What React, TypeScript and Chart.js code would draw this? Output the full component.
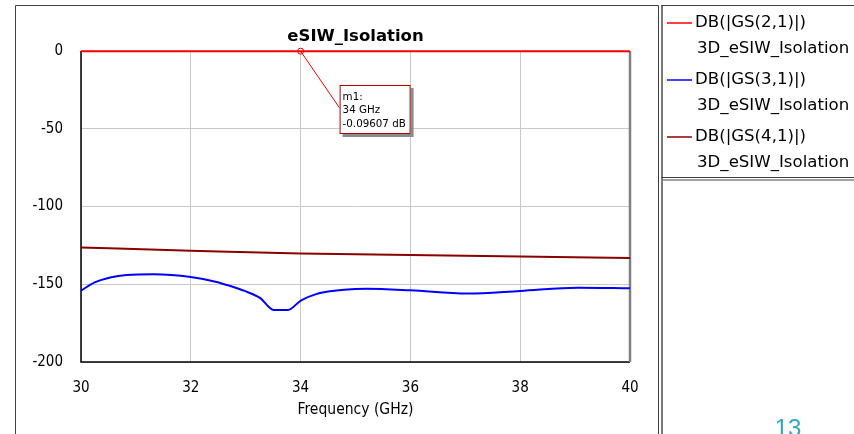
import React, { useEffect, useRef } from "react";
import { Chart, registerables } from "chart.js";

Chart.register(...registerables);

const FONT = "'DejaVu Sans Condensed', 'DejaVu Sans', sans-serif";
const WIDE = "'DejaVu Sans', sans-serif";

const chartTitle = "eSIW_Isolation";
const xAxisTitle = "Frequency (GHz)";
const xTickValues = [30, 32, 34, 36, 38, 40];
const yTickValues = [0, -50, -100, -150, -200];

const s21Label = ["DB(|GS(2,1)|)", "3D_eSIW_Isolation"];
const s21Freq = [30, 32, 34, 36, 38, 40];
const s21Db = [-0.1, -0.1, -0.09607, -0.1, -0.1, -0.1];

const s31Label = ["DB(|GS(3,1)|)", "3D_eSIW_Isolation"];
const s31Freq = [30, 30.25, 30.53, 30.83, 31.32, 32, 32.47, 32.7, 32.98, 33.26, 33.51, 33.77, 34.01, 34.27, 34.54, 34.79, 35.2, 36, 37.04, 38, 39.05, 40];
const s31Db = [-154.1, -148.8, -145.6, -144.0, -143.6, -145.3, -148.5, -150.9, -154.3, -158.8, -166.5, -166.5, -160.3, -156.5, -154.5, -153.5, -152.9, -153.9, -156.0, -154.3, -152.2, -152.6];

const s41Label = ["DB(|GS(4,1)|)", "3D_eSIW_Isolation"];
const s41Freq = [30, 32, 34, 36, 38, 40];
const s41Db = [-126.3, -128.4, -130.3, -131.2, -132.1, -133.1];

const markerName = "m1:";
const markerFreq = 34;
const markerDb = -0.09607;
const markerLines = [markerName, `${markerFreq} GHz`, `${markerDb} dB`];

const slideNumber = "13";

const toPoints = (xs: number[], ys: number[]) => xs.map((x, i) => ({ x, y: ys[i] }));

const decorPlugin = {
  id: "decor",
  beforeDatasetsDraw(chart: any) {
    const { ctx, chartArea: a } = chart;
    ctx.save();
    ctx.strokeStyle = "#000";
    ctx.lineWidth = 1.5;
    ctx.beginPath();
    ctx.moveTo(a.left, a.top);
    ctx.lineTo(a.left, a.bottom);
    ctx.lineTo(a.right, a.bottom);
    ctx.stroke();
    ctx.strokeStyle = "#808080";
    ctx.lineWidth = 2.5;
    ctx.beginPath();
    ctx.moveTo(a.right, a.top);
    ctx.lineTo(a.right, a.bottom);
    ctx.stroke();
    ctx.restore();
  },
  afterDraw(chart: any) {
    const { ctx, chartArea: a, scales } = chart;
    const W = chart.width;
    const H = chart.height;
    ctx.save();
    // outer frame
    ctx.strokeStyle = "#404040";
    ctx.lineWidth = 1;
    ctx.beginPath();
    ctx.moveTo(15.5, H);
    ctx.lineTo(15.5, 5.5);
    ctx.lineTo(658.5, 5.5);
    ctx.lineTo(658.5, H);
    ctx.stroke();
    ctx.strokeStyle = "#7a7a7a";
    ctx.lineWidth = 2;
    ctx.beginPath();
    ctx.moveTo(662, 5);
    ctx.lineTo(662, H);
    ctx.stroke();

    // title
    ctx.fillStyle = "#000";
    ctx.font = `bold 16.5px ${WIDE}`;
    ctx.textAlign = "center";
    ctx.textBaseline = "middle";
    ctx.fillText(chartTitle, (a.left + a.right) / 2, 37);

    // legend box
    ctx.strokeStyle = "#404040";
    ctx.lineWidth = 1;
    ctx.beginPath();
    ctx.moveTo(661, 5.5);
    ctx.lineTo(W, 5.5);
    ctx.moveTo(661, 177.5);
    ctx.lineTo(W, 177.5);
    ctx.stroke();
    ctx.strokeStyle = "#a0a0a0";
    ctx.lineWidth = 2;
    ctx.beginPath();
    ctx.moveTo(663, 180);
    ctx.lineTo(W, 180);
    ctx.stroke();

    const entries = chart.data.datasets.slice(0, 3);
    entries.forEach((ds: any, i: number) => {
      const y0 = 23 + i * 57;
      ctx.strokeStyle = ds.borderColor;
      ctx.lineWidth = 1.5;
      ctx.beginPath();
      ctx.moveTo(667, y0);
      ctx.lineTo(692, y0);
      ctx.stroke();
      ctx.fillStyle = "#000";
      ctx.font = `16.6px ${WIDE}`;
      ctx.textAlign = "left";
      ctx.textBaseline = "middle";
      ctx.fillText(ds.legendLines[0], 695, y0);
      ctx.fillText(ds.legendLines[1], 697, y0 + 26);
    });

    // marker
    const mx = scales.x.getPixelForValue(markerFreq);
    const my = scales.y.getPixelForValue(markerDb);
    const bx = mx + 39;
    const by = 85;
    const bw = 71;
    const bh = 49;
    ctx.strokeStyle = "#ff0000";
    ctx.lineWidth = 1;
    ctx.beginPath();
    ctx.moveTo(mx, my);
    ctx.lineTo(bx, by + 23);
    ctx.stroke();
    ctx.beginPath();
    ctx.arc(mx, my, 3, 0, Math.PI * 2);
    ctx.stroke();
    ctx.fillStyle = "#8c8c8c";
    ctx.fillRect(bx + 3, by + 3, bw, bh);
    ctx.fillStyle = "#fff";
    ctx.fillRect(bx, by, bw, bh);
    ctx.strokeStyle = "#b00000";
    ctx.strokeRect(bx + 0.5, by + 0.5, bw - 1, bh - 1);
    ctx.fillStyle = "#000";
    ctx.font = `10.3px ${WIDE}`;
    ctx.textAlign = "left";
    ctx.textBaseline = "middle";
    markerLines.forEach((t, i) => ctx.fillText(t, bx + 3, by + 12 + i * 13.5));

    // slide number
    ctx.fillStyle = "#2fa8c2";
    ctx.font = `24px 'Liberation Sans', sans-serif`;
    ctx.textAlign = "center";
    ctx.textBaseline = "alphabetic";
    ctx.fillText(slideNumber, 788, 436);
    ctx.restore();
  },
};

export default function App() {
  const ref = useRef<HTMLCanvasElement | null>(null);
  useEffect(() => {
    if (!ref.current) return;
    const tickFont = { family: FONT, size: 15 };
    const chart = new Chart(ref.current, {
      type: "line",
      data: {
        datasets: [
          { label: s21Label.join(" "), legendLines: s21Label, data: toPoints(s21Freq, s21Db), borderColor: "#ff0000", borderWidth: 2, pointRadius: 0, clip: 4 } as any,
          { label: s31Label.join(" "), legendLines: s31Label, data: toPoints(s31Freq, s31Db), borderColor: "#0000ff", borderWidth: 2, pointRadius: 0, cubicInterpolationMode: "monotone", clip: 4 } as any,
          { label: s41Label.join(" "), legendLines: s41Label, data: toPoints(s41Freq, s41Db), borderColor: "#8b0000", borderWidth: 2, pointRadius: 0, cubicInterpolationMode: "monotone", clip: 4 } as any,
        ],
      },
      options: {
        animation: false,
        responsive: false,
        devicePixelRatio: 1,
        layout: { padding: { left: 0, top: 51, right: 224, bottom: 12 } },
        plugins: { legend: { display: false }, title: { display: false }, tooltip: { enabled: false } },
        scales: {
          x: {
            type: "linear",
            min: 30,
            max: 40,
            afterBuildTicks: (s: any) => { s.ticks = xTickValues.map((v) => ({ value: v })); },
            afterFit: (s: any) => { s.height = 60; },
            grid: { color: "#c8c8c8", drawTicks: false, lineWidth: 1 },
            border: { display: false },
            ticks: { font: tickFont, color: "#000", padding: 17, maxRotation: 0 },
            title: { display: true, text: xAxisTitle, font: { family: FONT, size: 15.5 }, color: "#000", padding: { top: 0, bottom: 3 } },
          },
          y: {
            type: "linear",
            min: -200,
            max: 0,
            afterBuildTicks: (s: any) => { s.ticks = yTickValues.map((v) => ({ value: v })); },
            afterFit: (s: any) => { s.width = 81; },
            grid: { color: "#c8c8c8", drawTicks: false, lineWidth: 1 },
            border: { display: false },
            ticks: { font: tickFont, color: "#000", padding: 18 },
          },
        },
      },
      plugins: [decorPlugin],
    });
    return () => chart.destroy();
  }, []);
  return (
    <div style={{ position: "absolute", left: 0, top: 0, width: 854, height: 434, background: "#fff", overflow: "hidden" }}>
      <canvas ref={ref} width={854} height={434} style={{ width: 854, height: 434, display: "block" }} />
    </div>
  );
}
